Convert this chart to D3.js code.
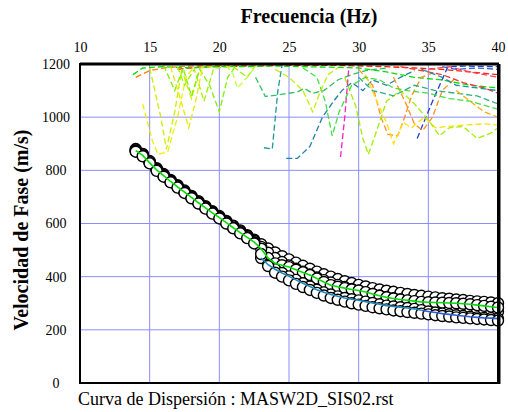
<!DOCTYPE html>
<html lang="es">
<head>
<meta charset="utf-8">
<title>Curva de Dispersión</title>
<script src="https://d3js.org/d3.v7.min.js"></script>
<style>
  body { margin: 0; background: #fff; }
</style>
</head>
<body>
<script>
// ---- data ----
var xTicks = [10, 15, 20, 25, 30, 35, 40];
var yTicks = [0, 200, 400, 600, 800, 1000, 1200];

var freqs = [14, 14.5, 15, 15.5, 16, 16.5, 17, 17.5, 18, 18.5, 19, 19.5, 20, 20.5, 21, 21.5, 22, 22.5,
  23, 23.5, 24, 24.5, 25, 25.5, 26, 26.5, 27, 27.5, 28, 28.5, 29, 29.5, 30, 30.5, 31, 31.5, 32, 32.5,
  33, 33.5, 34, 34.5, 35, 35.5, 36, 36.5, 37, 37.5, 38, 38.5, 39, 39.5, 40];

var curve1 = [880, 862, 835, 808, 786, 764, 744, 724, 704, 684, 665, 646, 628, 610, 592, 574, 556, 539,
  522, 506, 491, 477, 465, 453, 441, 430, 419, 409, 400, 391, 383, 376, 369, 363, 357, 352, 347, 343,
  339, 335, 331, 328, 325, 322, 319, 317, 314, 312, 309, 307, 305, 303, 300];
var curve2 = [874, 856, 828, 802, 780, 758, 738, 718, 698, 678, 659, 640, 622, 603, 584, 566, 548, 530,
  505, 470, 450, 443, 436, 426, 416, 406, 393, 380, 368, 362, 357, 352, 348, 342, 335, 328, 322, 318,
  314, 311, 308, 305, 304, 303, 302, 301, 300, 298, 296, 293, 290, 287, 284];
var curve3 = [878, 860, 832, 805, 783, 761, 741, 721, 701, 681, 662, 643, 625, 607, 589, 571, 553, 535,
  512, 490, 470, 455, 442, 430, 419, 408, 397, 387, 378, 369, 361, 354, 347, 341, 335, 329, 324, 319,
  314, 310, 306, 302, 298, 295, 291, 288, 285, 282, 279, 276, 273, 271, 268];
var curve4 = [872, 855, 829, 801, 779, 757, 737, 717, 697, 677, 658, 639, 621, 602, 584, 565, 547, 528,
  470, 445, 428, 414, 401, 388, 375, 363, 351, 341, 333, 326, 320, 315, 311, 306, 301, 296, 291, 288,
  285, 282, 279, 274, 269, 265, 261, 258, 255, 252, 249, 247, 245, 244, 242];
var curve5 = [870, 853, 826, 798, 776, 755, 735, 715, 695, 675, 656, 637, 619, 600, 582, 563, 545, 525,
  485, 440, 415, 400, 386, 373, 361, 350, 339, 329, 320, 313, 306, 300, 295, 290, 285, 281, 277, 273,
  270, 267, 264, 261, 258, 255, 252, 250, 247, 245, 243, 241, 239, 237, 235];

// higher-mode picks (dashed), [frequency, velocity]
var modes = [
  [[14,1150],[15,1175],[16,1185],[17,1190],[18,1192],[20,1195],[22,1195]],
  [[17,1180],[18.5,1188],[20,1190],[22,1192],[25,1195],[28,1195],[30,1193],[32,1190],[34,1185],[36,1180],[38,1170],[40,1160]],
  [[13.8,1160],[14.5,1185],[16,1190],[18,1185],[20,1192],[22,1190],[24,1193],[26,1190],[28,1188],[30,1185],[32,1170],[34,1150],[36,1140],[38,1120],[40,1110]],
  [[14.5,1050],[15.2,910],[15.6,860],[16.3,870],[17,1000],[17.6,1150],[18.2,1190]],
  [[15,1185],[15.8,1000],[16.2,880],[16.8,1020],[17.3,1180],[18,1070],[18.6,1185],[19.5,1190]],
  [[16,1195],[16.8,1100],[17.4,1185],[18,1080],[18.6,1180],[19.3,1120],[20,1020],[20.6,1150],[21.2,1195]],
  [[17,1190],[17.5,1120],[18.2,1180],[18.9,1060],[19.6,1185],[21,1190],[22,1150],[22.6,1195]],
  [[16.5,1190],[17.2,1070],[17.8,960],[18.3,1060],[18.8,1190]],
  [[23.2,885],[23.8,880],[24.2,1100],[24.5,1195]],
  [[24.8,845],[25.6,845],[26.5,890],[27.4,1000],[28.2,1060],[28.8,1100],[29.5,1130],[30.3,1100],[31,1140],[32,1120],[33,1150],[34,1175]],
  [[22.6,1150],[23.3,1078],[24.1,1083],[25.6,1095],[26.1,1108],[26.7,1090],[27.5,1100],[28.5,1140],[29.5,1160],[30.5,1175],[32,1185]],
  [[28.7,850],[29,1000],[29.3,1190]],
  [[34.2,920],[35.3,1060],[36.4,1190],[37.5,1192],[40,1190]],
  [[30,1180],[31,1120],[31.6,1000],[32.1,935],[32.8,930],[33.3,1000],[33.8,1080],[34.5,1150],[35.5,1170]],
  [[32.5,1150],[33.4,1050],[34,975],[34.6,950],[35.3,1000],[36,1100],[37,1150]],
  [[30.5,1160],[31.3,1060],[32,980],[32.5,900],[33.2,980],[33.8,960],[34.7,1000],[35.5,960],[36.4,965],[37.5,970],[39,975],[40,970]],
  [[29,1150],[29.8,1040],[30.3,920],[30.7,860],[31.3,950],[32,1060],[33,1100],[34,1050],[35,990],[35.8,930],[36.5,960],[37.5,965],[38.5,920],[39.5,940],[40,960]],
  [[26,1185],[27,1150],[27.6,1060],[28.1,930],[28.6,1020],[29.5,1120],[30.5,1150],[31.5,1140],[32.5,1110],[33.5,1100],[35,1090],[36.5,1070],[38,1060],[40,1030]],
  [[24,1180],[25,1150],[26,1100],[26.7,1020],[27.2,1090],[27.8,1160],[28.5,1185]],
  [[33,1190],[34.5,1175],[36,1160],[37.5,1130],[39,1110],[40,1090]],
  [[35,1180],[36.5,1190],[38,1170],[40,1150]],
  [[30,1150],[31,1100],[32.5,1080],[34,1120],[35.5,1100],[37,1090],[38.5,1080],[40,1050]],
  [[34.5,1180],[36,1150],[37,1120],[38.5,1110],[40,1100]],
  [[37,1100],[38,1060],[39,1020],[40,1000]],
  [[36,1190],[37,1180],[38.5,1185],[40,1180]],
  [[20.5,1195],[21,1160],[21.3,1110],[22,1150],[22.6,1190]]
];
var modeColors = ["#ff8000", "#ff2000", "#00e000", "#f0f000", "#c8f000", "#80f000", "#a0f000", "#e8e800",
  "#209898", "#2080a8", "#30c060", "#ff20c0", "#2040d0", "#ff9020", "#ff9020", "#ffe000", "#a0f000",
  "#40e040", "#c0f000", "#ff3030", "#ff4060", "#30b080", "#2090a0", "#ffb000", "#4060c0", "#c0ff40"];

// ---- layout ----
var w = 508, h = 412;
var serif = "Liberation Serif";
var x = d3.scaleLinear().domain([10, 40]).range([80, 498]);
var y = d3.scaleLinear().domain([0, 1200]).range([383, 64]);

var svg = d3.select("body").append("svg")
  .attr("width", w)
  .attr("height", h);

svg.append("clipPath").attr("id", "plot")
  .append("rect")
  .attr("x", x(10)).attr("y", y(1200))
  .attr("width", x(40) - x(10)).attr("height", y(0) - y(1200));

// grid
svg.append("g").selectAll("line")
  .data(xTicks.slice(1, -1))
  .join("line")
  .attr("x1", d => x(d)).attr("x2", d => x(d))
  .attr("y1", y(0)).attr("y2", y(1200))
  .attr("stroke", "#8c8cff").attr("stroke-width", 1);
svg.append("g").selectAll("line")
  .data(yTicks.slice(1, -1))
  .join("line")
  .attr("x1", x(10)).attr("x2", x(40))
  .attr("y1", d => y(d)).attr("y2", d => y(d))
  .attr("stroke", "#8c8cff").attr("stroke-width", 1);

// dashed higher modes
var line = d3.line().x(d => x(d[0])).y(d => y(d[1]));
svg.append("g").attr("clip-path", "url(#plot)")
  .selectAll("path")
  .data(modes)
  .join("path")
  .attr("d", line)
  .attr("fill", "none")
  .attr("stroke", (d, i) => modeColors[i])
  .attr("stroke-width", 1.3)
  .attr("stroke-dasharray", "6,3");

// fundamental mode picks
var curves = [curve1, curve3, curve2, curve4, curve5];
var dots = svg.append("g");
curves.forEach(function(c) {
  dots.append("g").selectAll("circle")
    .data(freqs)
    .join("circle")
    .attr("cx", d => x(d))
    .attr("cy", (d, i) => y(c[i]))
    .attr("r", 5.5)
    .attr("fill", "#fff")
    .attr("stroke", "#000")
    .attr("stroke-width", 1.4);
});

var greenPts = freqs.map((f, i) => [f, curve2[i]]);
var tealPts = freqs.map((f, i) => [f, curve4[i]]).filter(d => d[0] >= 23 && d[0] <= 34.5);
var bluePts = freqs.map((f, i) => [f, curve4[i]]).filter(d => d[0] >= 34.5);
svg.append("path").attr("d", line(tealPts))
  .attr("fill", "none").attr("stroke", "#2088b8").attr("stroke-width", 1.6);
svg.append("path").attr("d", line(bluePts))
  .attr("fill", "none").attr("stroke", "#3060d8").attr("stroke-width", 1.6);
svg.append("path").attr("d", line(greenPts))
  .attr("fill", "none").attr("stroke", "#00e000").attr("stroke-width", 1.6);

// frame
svg.append("rect")
  .attr("x", x(10)).attr("y", y(1200))
  .attr("width", x(40) - x(10)).attr("height", y(0) - y(1200))
  .attr("fill", "none").attr("stroke", "#000").attr("stroke-width", 2);
svg.append("line")
  .attr("x1", x(10)).attr("x2", x(40) + 1)
  .attr("y1", y(1200)).attr("y2", y(1200))
  .attr("stroke", "#000").attr("stroke-width", 3);
svg.append("line")
  .attr("x1", x(40) + 1).attr("x2", x(40) + 1)
  .attr("y1", y(1200)).attr("y2", y(0) + 1)
  .attr("stroke", "#000").attr("stroke-width", 3);

// axes (labels only)
var xAxis = svg.append("g")
  .attr("transform", "translate(0,52)")
  .call(d3.axisTop(x).tickValues(xTicks).tickFormat(d3.format("d")).tickSize(0).tickPadding(0))
  .attr("font-family", serif).attr("font-size", 14);
xAxis.select(".domain").remove();
xAxis.selectAll("text").attr("fill", "#000");

var yAxis = svg.append("g")
  .attr("transform", "translate(56,0)")
  .call(d3.axisLeft(y).tickValues(yTicks).tickFormat(d3.format("d")).tickSize(0).tickPadding(0))
  .attr("font-family", serif).attr("font-size", 14);
yAxis.select(".domain").remove();
yAxis.selectAll("text")
  .attr("text-anchor", "middle")
  .attr("x", 0)
  .attr("fill", "#000");

// titles
svg.append("text")
  .attr("x", 309).attr("y", 23)
  .attr("text-anchor", "middle")
  .attr("font-family", serif)
  .attr("font-size", 20).attr("font-weight", "bold")
  .text("Frecuencia (Hz)");

svg.append("text")
  .attr("transform", "translate(28,230) rotate(-90)")
  .attr("text-anchor", "middle")
  .attr("font-family", serif)
  .attr("font-size", 20).attr("font-weight", "bold")
  .text("Velocidad de Fase (m/s)");

svg.append("text")
  .attr("x", 78).attr("y", 405)
  .attr("font-family", serif)
  .attr("font-size", 18)
  .text("Curva de Dispersión : MASW2D_SIS02.rst");
</script>
</body>
</html>
